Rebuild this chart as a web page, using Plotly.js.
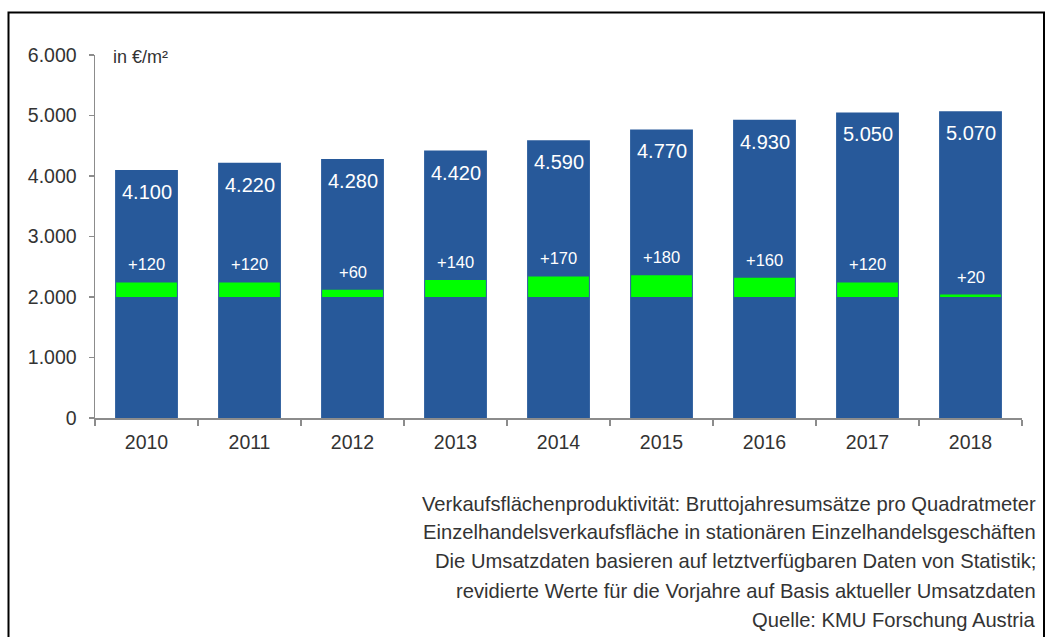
<!DOCTYPE html>
<html>
<head>
<meta charset="utf-8">
<script src="https://cdn.plot.ly/plotly-3.0.1.min.js"></script>
<style>html,body{margin:0;padding:0;background:#fff;}#chart{width:1047px;height:637px;}</style>
</head>
<body>
<div id="chart"></div>
<script>
const years = ['2010','2011','2012','2013','2014','2015','2016','2017','2018'];
const values = [4100, 4220, 4280, 4420, 4590, 4770, 4930, 5050, 5070];
const deltas = [120, 120, 60, 140, 170, 180, 160, 120, 20];
const deltaLabels = ['+120','+120','+60','+140','+170','+180','+160','+120','+20'];
const yTicks = [0, 1000, 2000, 3000, 4000, 5000, 6000];
const unitLabel = 'in €/m²';
const footnotes = [
  'Verkaufsflächenproduktivität: Bruttojahresumsätze pro Quadratmeter',
  'Einzelhandelsverkaufsfläche in stationären Einzelhandelsgeschäften',
  'Die Umsatzdaten basieren auf letztverfügbaren Daten von Statistik;',
  'revidierte Werte für die Vorjahre auf Basis aktueller Umsatzdaten',
  'Quelle: KMU Forschung Austria'
];

const FONT = 'Liberation Sans, Arial, sans-serif';
const W = 1047, H = 637;
const L = 95, R = 25, T = 55, B = 219;
const pw = W - L - R, ph = H - T - B;
const px = x => (x - L) / pw;
const py = y => (H - B - y) / ph;

const fmt = v => v.toLocaleString('de-DE');

const traces = [
  {
    type: 'bar', x: years, y: values, width: 0.61,
    marker: {color: '#27599A', line: {width: 0}},
    hoverinfo: 'skip', showlegend: false
  },
  {
    type: 'bar', x: years, y: deltas, base: deltas.map(() => 1000), yaxis: 'y2', width: 0.59,
    marker: {color: '#00FF00', line: {width: 0}},
    hoverinfo: 'skip', showlegend: false
  }
];

const annotations = [];
years.forEach((yr, i) => {
  annotations.push({
    x: i, y: values[i], xref: 'x', yref: 'y', text: fmt(values[i]),
    showarrow: false, yanchor: 'middle', yshift: -22,
    font: {family: FONT, size: 20, color: '#ffffff'}
  });
  annotations.push({
    x: i, y: 1000 + deltas[i], xref: 'x', yref: 'y2', text: deltaLabels[i],
    showarrow: false, yanchor: 'middle', yshift: 18,
    font: {family: FONT, size: 16.5, color: '#ffffff'}
  });
});
annotations.push({
  x: px(111), y: py(57), xref: 'paper', yref: 'paper', text: unitLabel,
  showarrow: false, xanchor: 'left', yanchor: 'middle',
  font: {family: FONT, size: 18, color: '#333333'}
});
const footY = [504, 532, 561, 591, 620];
footnotes.forEach((t, i) => {
  annotations.push({
    x: px(1038), y: py(footY[i]), xref: 'paper', yref: 'paper', text: t,
    showarrow: false, xanchor: 'right', yanchor: 'middle',
    font: {family: FONT, size: 20.2, color: '#333333'}
  });
});

const layout = {
  width: W, height: H,
  margin: {l: L, r: R, t: T, b: B, pad: 0},
  paper_bgcolor: '#ffffff', plot_bgcolor: '#ffffff',
  separators: ',.',
  barmode: 'overlay',
  showlegend: false,
  font: {family: FONT, size: 19, color: '#333333'},
  xaxis: {
    type: 'category', range: [-0.5, years.length - 0.5], autorange: false,
    showline: true, linecolor: '#8c8c8c', linewidth: 1.5,
    ticks: 'outside', tickson: 'boundaries', ticklen: 6, tickcolor: '#8c8c8c', tickwidth: 1.5,
    showgrid: false, zeroline: false, fixedrange: true, tickangle: 0, ticklabelstandoff: 6,
    tickfont: {family: FONT, size: 19.5, color: '#333333'}
  },
  yaxis: {
    range: [0, 6000], autorange: false, tickvals: yTicks, tickformat: ',d',
    showline: true, linecolor: '#8c8c8c', linewidth: 1.5,
    ticks: 'outside', ticklen: 5, tickcolor: '#8c8c8c', tickwidth: 1.5,
    showgrid: false, zeroline: false, fixedrange: true, ticklabelstandoff: 8,
    tickfont: {family: FONT, size: 19.5, color: '#333333'}
  },
  yaxis2: {
    range: [0, 3000], autorange: false, overlaying: 'y', visible: false, fixedrange: true
  },
  annotations: annotations,
  shapes: [{
    type: 'rect', xref: 'paper', yref: 'paper',
    x0: px(8.5), x1: px(1044), y0: py(660), y1: py(12.5),
    line: {color: '#000000', width: 2}, fillcolor: 'rgba(0,0,0,0)', layer: 'below'
  }]
};

Plotly.newPlot('chart', traces, layout, {staticPlot: true, displayModeBar: false});
</script>
</body>
</html>
